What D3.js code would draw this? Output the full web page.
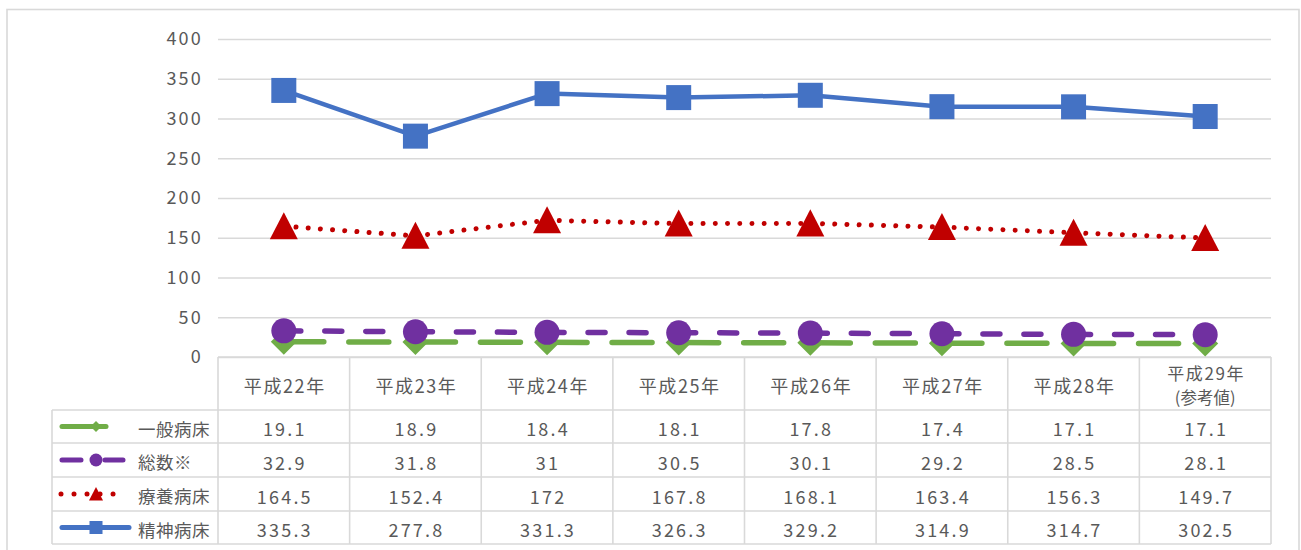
<!DOCTYPE html>
<html><head><meta charset="utf-8">
<script src="https://cdn.jsdelivr.net/npm/d3@7"></script>
<style>
html,body{margin:0;padding:0;background:#fff;}
svg{display:block;}
text{font-family:"Noto Sans CJK JP","Noto Sans",sans-serif;fill:#595959;}
</style></head>
<body><svg id="c" width="1301" height="550"></svg>
<script>
const categories = ["平成22年","平成23年","平成24年","平成25年","平成26年","平成27年","平成28年","平成29年\n(参考値)"];
const seriesNames = ["一般病床","総数※","療養病床","精神病床"];
const generalBeds = [19.1,18.9,18.4,18.1,17.8,17.4,17.1,17.1];
const totalBeds = [32.9,31.8,31,30.5,30.1,29.2,28.5,28.1];
const longTermBeds = [164.5,152.4,172,167.8,168.1,163.4,156.3,149.7];
const psychBeds = [335.3,277.8,331.3,326.3,329.2,314.9,314.7,302.5];
const yTicks = [0,50,100,150,200,250,300,350,400];

const svg = d3.select("#c");
const L = 218, R = 1271, T = 39, B = 357;
const x = d3.scaleBand().domain(categories).range([L, R]);
const y = d3.scaleLinear().domain([0, 400]).range([B, T]);
const cx = c => x(c) + x.bandwidth() / 2;
const grid = "#d9d9d9";

// outer frame
svg.append("rect").attr("x",7).attr("y",9.5).attr("width",1292).attr("height",560)
  .attr("fill","none").attr("stroke",grid).attr("stroke-width",1.6);

// y axis with gridlines
const ax = svg.append("g").attr("transform",`translate(${L},0)`)
  .call(d3.axisLeft(y).tickValues(yTicks).tickSize(-(R-L)).tickPadding(15));
ax.select(".domain").remove();
ax.selectAll(".tick line").attr("stroke",grid).attr("stroke-width",1.5);
ax.selectAll(".tick text").attr("font-size",18).attr("fill","#595959")
  .style("font-family",'"Noto Sans CJK JP",sans-serif').attr("letter-spacing","2.2px");

// table grid
const rows = [410,443,477,511,544];
const tg = svg.append("g").attr("stroke",grid).attr("stroke-width",1.6);
tg.append("line").attr("x1",L).attr("x2",R).attr("y1",B).attr("y2",B);
rows.forEach(r=>tg.append("line").attr("x1",52).attr("x2",R).attr("y1",r).attr("y2",r));
tg.append("line").attr("x1",52).attr("x2",52).attr("y1",rows[0]).attr("y2",rows[4]);
const cols = categories.map(c=>x(c)).concat([R]);
cols.forEach(cc=>tg.append("line").attr("x1",cc).attr("x2",cc).attr("y1",B).attr("y2",rows[4]));

// header labels
categories.forEach(c=>{
  const parts = c.split("\n");
  if (parts.length === 1) {
    svg.append("text").attr("x",cx(c)+1).attr("y",384.5).attr("text-anchor","middle")
      .attr("dominant-baseline","central").attr("font-size",18).attr("letter-spacing","1.6px").text(parts[0]);
  } else {
    svg.append("text").attr("x",cx(c)+1).attr("y",372).attr("text-anchor","middle")
      .attr("dominant-baseline","central").attr("font-size",17).attr("letter-spacing","1.6px").text(parts[0]);
    svg.append("text").attr("x",cx(c)).attr("y",397).attr("text-anchor","middle")
      .attr("dominant-baseline","central").attr("font-size",16.5).text(parts[1]);
  }
});

const series = [
  {name:seriesNames[0], data:generalBeds, color:"#70ad47", width:5.5, dash:"40 25", marker:"diamond", size:13},
  {name:seriesNames[1], data:totalBeds, color:"#7030a0", width:5.5, dash:"17 24", marker:"circle", size:12.5},
  {name:seriesNames[2], data:longTermBeds, color:"#c00000", width:5, dash:"0.01 12.2", marker:"triangle", size:14},
  {name:seriesNames[3], data:psychBeds, color:"#4472c4", width:4.5, dash:null, marker:"square", size:12.5}
];

function drawMarker(g, type, px, py, s, color){
  if (type==="square") g.append("rect").attr("x",px-s).attr("y",py-s).attr("width",2*s).attr("height",2*s).attr("fill",color);
  else if (type==="circle") g.append("circle").attr("cx",px).attr("cy",py).attr("r",s).attr("fill",color);
  else if (type==="diamond") g.append("path").attr("d",`M${px},${py-s}L${px+s},${py}L${px},${py+s}L${px-s},${py}Z`).attr("fill",color);
  else if (type==="triangle") g.append("path").attr("d",`M${px},${py-s}L${px+s},${py+s*0.93}L${px-s},${py+s*0.93}Z`).attr("fill",color);
}

const line = d3.line().x((d,i)=>cx(categories[i])).y(d=>y(d));
series.forEach(s=>{
  const g = svg.append("g");
  if (s.dash) {
    // dash pattern restarts at each segment (as in the source chart)
    for (let i=0;i<s.data.length-1;i++){
      g.append("path")
        .attr("d",`M${cx(categories[i])},${y(s.data[i])}L${cx(categories[i+1])},${y(s.data[i+1])}`)
        .attr("fill","none").attr("stroke",s.color).attr("stroke-width",s.width)
        .attr("stroke-linecap","round").attr("stroke-dasharray",s.dash);
    }
  } else {
    g.append("path").attr("d",line(s.data)).attr("fill","none").attr("stroke",s.color)
      .attr("stroke-width",s.width).attr("stroke-linecap","round").attr("stroke-linejoin","round");
  }
  s.data.forEach((v,i)=>drawMarker(g,s.marker,cx(categories[i]),y(v),s.size,s.color));
});

// table values & legend
series.forEach((s,ri)=>{
  const yc = (rows[ri]+rows[ri+1])/2 + 1.5;
  s.data.forEach((v,i)=>{
    svg.append("text").attr("x",cx(categories[i])+1).attr("y",yc).attr("text-anchor","middle")
      .attr("dominant-baseline","central").attr("font-size",18).attr("letter-spacing","2.2px").text(String(v));
  });
  svg.append("text").attr("x",138).attr("y",yc).attr("dominant-baseline","central")
    .attr("font-size",17.5).attr("letter-spacing","0.5px").text(s.name);
  const lg = svg.append("g");
  const ly = yc - 1.5;
  let d, dash;
  if (ri===0){ d=`M62,${ly}H131`; dash="44 25 0.01 100"; }
  else if (ri===1){ d=`M62,${ly}H124`; dash="19 24 18 100"; }
  else if (ri===2){ d=`M61,${ly}H126`; dash="0.01 13"; }
  else { d=`M62,${ly}H129`; dash=null; }
  const lp = lg.append("path").attr("d",d).attr("fill","none").attr("stroke",s.color)
    .attr("stroke-width",5).attr("stroke-linecap","round");
  if (dash) lp.attr("stroke-dasharray",dash);
  drawMarker(lg,s.marker,96,ly,ri===2?7:(ri===0?5.5:6.5),s.color);
});
</script></body></html>
